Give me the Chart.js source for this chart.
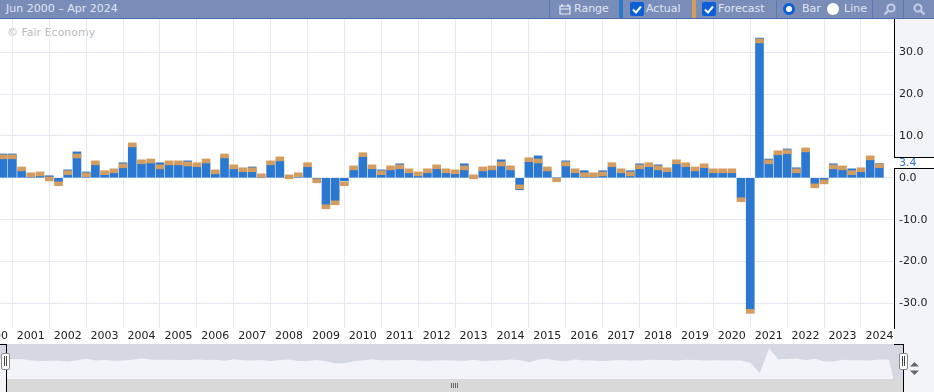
<!DOCTYPE html>
<html>
<head>
<meta charset="utf-8">
<script src="https://cdn.jsdelivr.net/npm/chart.js@4/dist/chart.umd.min.js"></script>
<style>
html,body{margin:0;padding:0;background:#fff;overflow:hidden}
#root{position:relative;width:934px;height:392px;overflow:hidden;font:11px "DejaVu Sans",sans-serif}
#root div,#root span,#root svg{position:absolute}
.tb{top:0;height:18px;background:#7a8db8}
.t{top:2px;color:#dfe6f3;white-space:nowrap;line-height:14px}
.sep{top:0;width:1px;height:18px;background:#5f78ad}
.chk{top:2px;width:14px;height:14px;background:#0d5fd8;border-radius:2px}
#main{position:absolute;left:-50px;top:19px;width:984px;height:325px}
#nav{position:absolute;left:0;top:344px;width:903px;height:35px}
</style>
</head>
<body>
<div id="root">
  <div style="left:894px;top:19px;width:40px;height:325px;background:#f3f4f9"></div>
  <div style="left:904px;top:344px;width:30px;height:48px;background:#f3f4f9"></div>
  <div style="left:0;top:379px;width:6px;height:13px;background:#f3f4f9"></div>
  <span style="left:7px;top:26px;color:#bcbcbc">© Fair Economy</span>
  <canvas id="main" width="984" height="325"></canvas>
  <div style="left:894px;top:157px;width:40px;height:10px;background:#fff;border-top:1px solid #000;border-bottom:1px solid #000"></div>
  <span style="left:899px;top:156px;color:#2b78d0;line-height:14px">3.4</span>

  <div class="tb" style="left:0;width:934px"></div>
  <div style="left:0;top:18px;width:934px;height:1px;background:#4a6ca8"></div>
  <span class="t" style="left:6px">Jun 2000 – Apr 2024</span>
  <div class="sep" style="left:549px"></div>
  <svg style="left:559px;top:3px" width="12" height="12" viewBox="0 0 12 12"><path d="M1 3h10v8H1zM3 1v3M9 1v3M1 6h10" fill="none" stroke="#e6ebf5" stroke-width="1.2"/></svg>
  <span class="t" style="left:574px">Range</span>
  <div style="left:619px;top:0;width:4px;height:18px;background:#2b78d0"></div>
  <div class="chk" style="left:630px"></div>
  <svg style="left:630px;top:2px" width="14" height="14" viewBox="0 0 14 14"><path d="M3 7.5l3 3 5-6" fill="none" stroke="#fff" stroke-width="2"/></svg>
  <span class="t" style="left:646px">Actual</span>
  <div style="left:692px;top:0;width:4px;height:18px;background:#d39b5c"></div>
  <div class="chk" style="left:702px"></div>
  <svg style="left:702px;top:2px" width="14" height="14" viewBox="0 0 14 14"><path d="M3 7.5l3 3 5-6" fill="none" stroke="#fff" stroke-width="2"/></svg>
  <span class="t" style="left:718px">Forecast</span>
  <div class="sep" style="left:776px"></div>
  <div style="left:783px;top:3px;width:6px;height:6px;border:3px solid #0d5fd8;border-radius:50%;background:#fff"></div>
  <span class="t" style="left:802px">Bar</span>
  <div style="left:827px;top:3px;width:12px;height:12px;border-radius:50%;background:#fff"></div>
  <span class="t" style="left:844px">Line</span>
  <div class="sep" style="left:872px"></div>
  <svg style="left:883px;top:3px" width="13" height="13" viewBox="0 0 13 13"><circle cx="8" cy="5" r="3.6" fill="none" stroke="#c3cde3" stroke-width="2"/><path d="M5.4 7.6L1.5 11.5" stroke="#c3cde3" stroke-width="2.4"/></svg>
  <div class="sep" style="left:903px"></div>
  <svg style="left:913px;top:3px" width="13" height="13" viewBox="0 0 13 13"><circle cx="5" cy="5" r="3.6" fill="none" stroke="#c3cde3" stroke-width="2"/><path d="M7.6 7.6L11.5 11.5" stroke="#c3cde3" stroke-width="2.4"/></svg>

  <canvas id="nav" width="903" height="35"></canvas>
  <div style="left:6px;top:379px;width:897px;height:13px;background:#d9d9d9"></div>
  <div style="left:0;top:344px;width:6px;height:1px;background:#000"></div>
  <div style="left:6px;top:344px;width:1px;height:48px;background:#000"></div>
  <div style="left:894px;top:344px;width:9px;height:1px;background:#000"></div>
  <div style="left:903px;top:344px;width:1px;height:48px;background:#000"></div>
  <div style="left:1px;top:353px;width:7px;height:15px;background:#fff;border:1px solid #888;border-radius:2px"></div>
  <div style="left:4px;top:356px;width:1px;height:10px;background:#444"></div>
  <div style="left:6px;top:356px;width:1px;height:10px;background:#444"></div>
  <div style="left:899px;top:353px;width:7px;height:15px;background:#fff;border:1px solid #888;border-radius:2px"></div>
  <div style="left:902px;top:356px;width:1px;height:10px;background:#444"></div>
  <div style="left:904px;top:356px;width:1px;height:10px;background:#444"></div>
  <svg style="left:909px;top:362px" width="11" height="13" viewBox="0 0 11 13"><path d="M5.5 0L10 4.5H1zM5.5 13L10 8.5H1z" fill="#666"/></svg>
  <div style="left:451px;top:383px;width:1px;height:5px;background:#666"></div>
  <div style="left:453px;top:383px;width:1px;height:5px;background:#666"></div>
  <div style="left:455px;top:383px;width:1px;height:5px;background:#666"></div>
  <div style="left:457px;top:383px;width:1px;height:5px;background:#666"></div>
</div>
<script>
// Quarter dates as decimal years: Q2 2000 to Q1 2024
const categories = [
  2000.25,2000.5,2000.75,
  2001,2001.25,2001.5,2001.75, 2002,2002.25,2002.5,2002.75, 2003,2003.25,2003.5,2003.75,
  2004,2004.25,2004.5,2004.75, 2005,2005.25,2005.5,2005.75, 2006,2006.25,2006.5,2006.75,
  2007,2007.25,2007.5,2007.75, 2008,2008.25,2008.5,2008.75, 2009,2009.25,2009.5,2009.75,
  2010,2010.25,2010.5,2010.75, 2011,2011.25,2011.5,2011.75, 2012,2012.25,2012.5,2012.75,
  2013,2013.25,2013.5,2013.75, 2014,2014.25,2014.5,2014.75, 2015,2015.25,2015.5,2015.75,
  2016,2016.25,2016.5,2016.75, 2017,2017.25,2017.5,2017.75, 2018,2018.25,2018.5,2018.75,
  2019,2019.25,2019.5,2019.75, 2020,2020.25,2020.5,2020.75, 2021,2021.25,2021.5,2021.75,
  2022,2022.25,2022.5,2022.75, 2023,2023.25,2023.5,2023.75, 2024
];
const actual = [
  5.7,5.7,1.7,
  0.2,0.5,0.5,-1.0, 1.9,6.2,1.4,3.1, 0.7,1.2,3.6,7.4,
  3.35,3.6,3.6,3.1, 3.1,4.05,2.6,3.6, 0.95,4.8,2.15,1.4,
  2.6,0,3.1,4.05, 0,0.25,2.6,-0.25, -6.45,-5.5,-0.7,1.9,
  5.0,2.15,1.9,1.9, 3.35,1.2,0.5,1.2, 2.15,1.2,0.95,3.35,
  0,1.7,1.9,4.3, 1.9,-2.86,3.8,5.25, 1.7,0,4.05,1.2,
  1.7,0.25,1.7,2.6, 1.2,1.7,3.35,2.6, 3.1,1.4,3.35,2.6,
  1.7,2.4,1.2,1.2, 1.2,-4.8,-31.5,33.4, 4.5,5.5,6.9,2.4,
  6.2,-1.45,-0.5,3.35, 1.9,2.15,1.4,4.3, 3.4
];
const forecast = [
  5.5,5.5,2.6,
  1.2,1.4,-0.75,-1.9, 1.7,5.7,1.2,4.05, 1.7,2.15,3.35,8.35,
  4.3,4.5,3.1,4.05, 4.05,3.8,3.6,4.5, 1.9,5.7,3.1,2.4,
  2.4,0.95,4.05,5.0, -0.24,1.2,3.6,-1.2, -7.4,-6.45,-1.9,2.85,
  6.0,3.1,1.7,2.85, 3.1,2.15,1.4,2.15, 3.1,2.15,1.9,2.85,
  -0.24,2.6,2.85,3.8, 2.85,-2.65,4.8,4.5, 2.6,-0.95,3.8,2.15,
  1.2,1.2,1.4,3.6, 2.15,1.4,3.1,3.6, 2.85,2.4,4.3,3.6,
  2.6,3.35,2.15,2.15, 2.15,-5.7,-32.4,33.2, 4.3,6.45,6.7,2.15,
  7.15,-2.4,-1.45,3.1, 2.85,1.7,2.4,5.25, 3.35
];
const yearTicks = [2000,2001,2002,2003,2004,2005,2006,2007,2008,2009,2010,2011,2012,2013,2014,2015,2016,2017,2018,2019,2020,2021,2022,2023,2024];
const valueTicks = [30,20,10,0,-10,-20,-30];

const actualColor = '#2a78d2', forecastColor = '#d49d5f', gridColor = '#e7e9f2';
const font = {family:'"DejaVu Sans",sans-serif', size:11};
const bandDepth = 0.95;
const forecastBands = forecast.map(f => f >= 0 ? [f - bandDepth, f] : [f, f + bandDepth]);

new Chart(document.getElementById('main'), {
  type:'bar',
  data:{datasets:[
    {label:'Forecast', order:1, data:categories.map((x,i)=>({x, y:forecastBands[i]})), backgroundColor:forecastColor, barThickness:8, borderSkipped:false, grouped:false},
    {label:'Actual', order:2, data:categories.map((x,i)=>({x, y:actual[i]})), backgroundColor:actualColor, barThickness:8, grouped:false}
  ]},
  options:{
    responsive:false, animation:false, parsing:{xAxisKey:'x',yAxisKey:'y'},
    layout:{padding:0},
    plugins:{legend:{display:false},tooltip:{enabled:false}},
    scales:{
      x:{type:'linear', min:1998.81, max:2024.396, offset:false,
        afterBuildTicks:s=>{s.ticks=yearTicks.map(v=>({value:v}));},
        afterFit:s=>{s.height=16;s.paddingLeft=0;s.paddingRight=0;},
        border:{display:false},
        grid:{color:gridColor, drawTicks:false},
        ticks:{autoSkip:false,maxRotation:0,padding:2,color:'#222',font,callback:v=>String(v)}},
      y:{type:'linear', position:'right', min:-35.9, max:37.96,
        afterBuildTicks:s=>{s.ticks=valueTicks.map(v=>({value:v}));},
        afterFit:s=>{s.width=40;s.paddingTop=0;s.paddingBottom=0;},
        border:{display:true,color:'#000',width:1},
        grid:{color:gridColor, drawTicks:false},
        ticks:{padding:5,color:'#222',font,callback:v=>v.toFixed(1)}}
    }
  }
});
</script>
<script>
const navFloor = -47;
const navStart = 2000.168, navEnd = 2024.64;
const navX = [navStart].concat(categories.map(x=>x+0.26), [2024.38]);
const navY = [actual[0]].concat(actual, [navFloor]);
new Chart(document.getElementById('nav'), {
  type:'line',
  data:{datasets:[{data:navX.map((x,i)=>({x,y:navY[i]})),borderWidth:0,pointRadius:0,fill:'start',backgroundColor:'#f3f4f9',tension:0}]},
  options:{
    responsive:false, animation:false,
    layout:{padding:0},
    plugins:{legend:{display:false},tooltip:{enabled:false}},
    scales:{
      x:{type:'linear',display:false,min:navStart,max:navEnd},
      y:{type:'linear',display:false,min:navFloor,max:44.7}
    }
  },
  plugins:[{id:'navBg',beforeDraw(c){c.ctx.save();c.ctx.fillStyle='#d3d8e2';c.ctx.fillRect(0,0,c.width,c.height);c.ctx.restore();}}]
});
</script>
</body>
</html>
